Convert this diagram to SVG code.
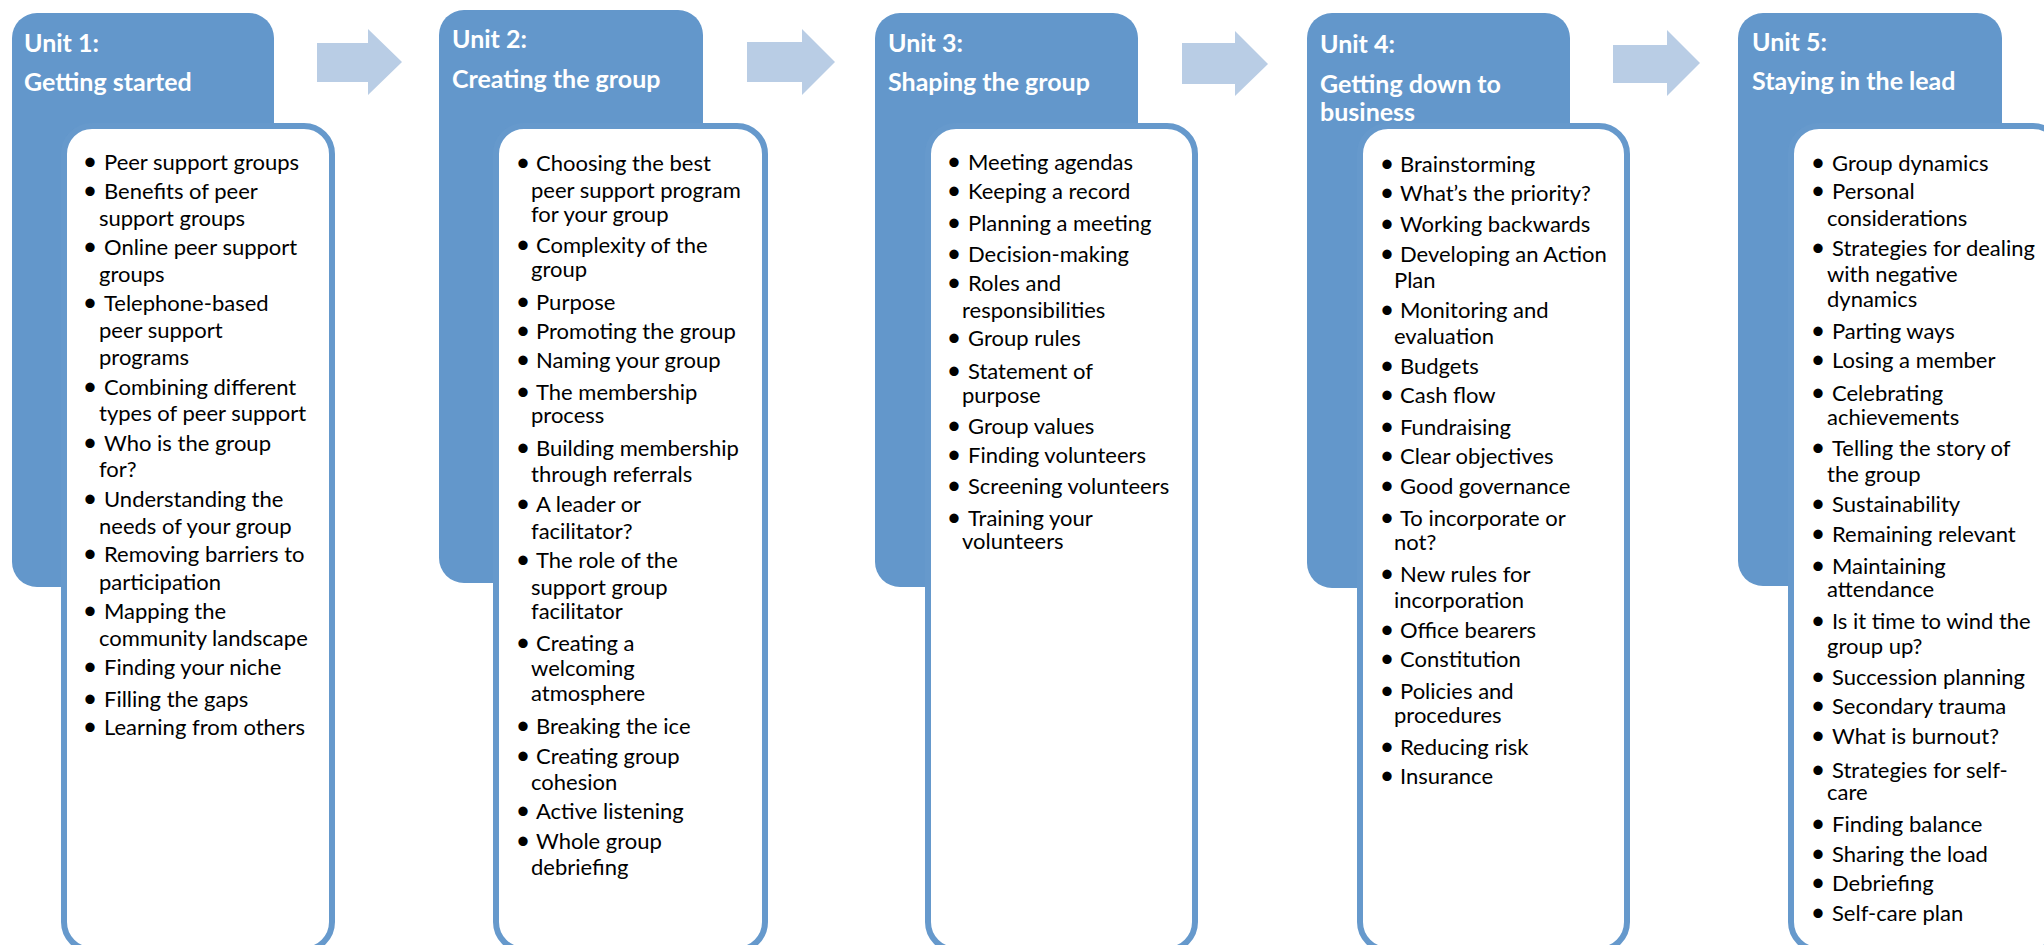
<svg xmlns="http://www.w3.org/2000/svg" width="2044" height="945" viewBox="0 0 2044 945">
<style>
.blue{fill:#6397CB}
.card{fill:#fff;stroke:#6699CC;stroke-width:6}
.arrow{fill:#B9CDE5}
.t{font-family:Lato,"Liberation Sans",sans-serif;font-weight:bold;font-size:25px;fill:#fff}
.b{font-family:Lato,"Liberation Sans",sans-serif;font-size:22px;fill:#000}
.d{font-family:Lato,"Liberation Sans",sans-serif;font-size:25px;fill:#000;text-anchor:middle}
</style>
<rect width="2044" height="945" fill="#fff"/>
<g id="connectors">
<polygon class="arrow" points="317,43 368,43 368,29 402,62 368,95 368,82 317,82"/>
<polygon class="arrow" points="747,42 802,42 802,29 835,62 802,95 802,82 747,82"/>
<polygon class="arrow" points="1182,43 1235,43 1235,31 1268,64 1235,96 1235,84 1182,84"/>
<polygon class="arrow" points="1613,45 1667,45 1667,30 1700,63 1667,96 1667,83 1613,83"/>
</g>
<g id="unit1">
<rect class="blue" x="12" y="13" width="262" height="574" rx="25"/>
<rect class="card" x="64" y="126" width="268" height="824" rx="28"/>
<text class="t" x="24" y="52">Unit 1:</text>
<text class="t" x="24" y="91">Getting started</text>
<g class="d"><text x="90" y="170">•</text><text x="90" y="199">•</text><text x="90" y="255">•</text><text x="90" y="311">•</text><text x="90" y="395">•</text><text x="90" y="451">•</text><text x="90" y="507">•</text><text x="90" y="562">•</text><text x="90" y="619">•</text><text x="90" y="675">•</text><text x="90" y="707">•</text><text x="90" y="735">•</text></g>
<text class="b" x="104" y="170">Peer support groups</text>
<text class="b"><tspan x="104" y="199">Benefits of peer</tspan><tspan x="99" y="226">support groups</tspan></text>
<text class="b"><tspan x="104" y="255">Online peer support</tspan><tspan x="99" y="282">groups</tspan></text>
<text class="b"><tspan x="104" y="311">Telephone-based</tspan><tspan x="99" y="338">peer support</tspan><tspan x="99" y="365">programs</tspan></text>
<text class="b"><tspan x="104" y="395">Combining different</tspan><tspan x="99" y="421">types of peer support</tspan></text>
<text class="b"><tspan x="104" y="451">Who is the group</tspan><tspan x="99" y="477">for?</tspan></text>
<text class="b"><tspan x="104" y="507">Understanding the</tspan><tspan x="99" y="534">needs of your group</tspan></text>
<text class="b"><tspan x="104" y="562">Removing barriers to</tspan><tspan x="99" y="590">participation</tspan></text>
<text class="b"><tspan x="104" y="619">Mapping the</tspan><tspan x="99" y="646">community landscape</tspan></text>
<text class="b" x="104" y="675">Finding your niche</text>
<text class="b" x="104" y="707">Filling the gaps</text>
<text class="b" x="104" y="735">Learning from others</text>
</g>
<g id="unit2">
<rect class="blue" x="439" y="10" width="264" height="573" rx="25"/>
<rect class="card" x="496" y="126" width="269" height="824" rx="28"/>
<text class="t" x="452" y="48">Unit 2:</text>
<text class="t" x="452" y="88">Creating the group</text>
<g class="d"><text x="523" y="171">•</text><text x="523" y="253">•</text><text x="523" y="310">•</text><text x="523" y="339">•</text><text x="523" y="368">•</text><text x="523" y="400">•</text><text x="523" y="456">•</text><text x="523" y="512">•</text><text x="523" y="568">•</text><text x="523" y="651">•</text><text x="523" y="734">•</text><text x="523" y="764">•</text><text x="523" y="819">•</text><text x="523" y="849">•</text></g>
<text class="b"><tspan x="536" y="171">Choosing the best</tspan><tspan x="531" y="198">peer support program</tspan><tspan x="531" y="222">for your group</tspan></text>
<text class="b"><tspan x="536" y="253">Complexity of the</tspan><tspan x="531" y="277">group</tspan></text>
<text class="b" x="536" y="310">Purpose</text>
<text class="b" x="536" y="339">Promoting the group</text>
<text class="b" x="536" y="368">Naming your group</text>
<text class="b"><tspan x="536" y="400">The membership</tspan><tspan x="531" y="423">process</tspan></text>
<text class="b"><tspan x="536" y="456">Building membership</tspan><tspan x="531" y="482">through referrals</tspan></text>
<text class="b"><tspan x="536" y="512">A leader or</tspan><tspan x="531" y="539">facilitator?</tspan></text>
<text class="b"><tspan x="536" y="568">The role of the</tspan><tspan x="531" y="595">support group</tspan><tspan x="531" y="619">facilitator</tspan></text>
<text class="b"><tspan x="536" y="651">Creating a</tspan><tspan x="531" y="676">welcoming</tspan><tspan x="531" y="701">atmosphere</tspan></text>
<text class="b" x="536" y="734">Breaking the ice</text>
<text class="b"><tspan x="536" y="764">Creating group</tspan><tspan x="531" y="790">cohesion</tspan></text>
<text class="b" x="536" y="819">Active listening</text>
<text class="b"><tspan x="536" y="849">Whole group</tspan><tspan x="531" y="875">debriefing</tspan></text>
</g>
<g id="unit3">
<rect class="blue" x="875" y="13" width="263" height="574" rx="25"/>
<rect class="card" x="928" y="126" width="267" height="824" rx="28"/>
<text class="t" x="888" y="52">Unit 3:</text>
<text class="t" x="888" y="91">Shaping the group</text>
<g class="d"><text x="954" y="170">•</text><text x="954" y="199">•</text><text x="954" y="231">•</text><text x="954" y="262">•</text><text x="954" y="291">•</text><text x="954" y="346">•</text><text x="954" y="379">•</text><text x="954" y="434">•</text><text x="954" y="463">•</text><text x="954" y="494">•</text><text x="954" y="526">•</text></g>
<text class="b" x="968" y="170">Meeting agendas</text>
<text class="b" x="968" y="199">Keeping a record</text>
<text class="b" x="968" y="231">Planning a meeting</text>
<text class="b" x="968" y="262">Decision-making</text>
<text class="b"><tspan x="968" y="291">Roles and</tspan><tspan x="962" y="318">responsibilities</tspan></text>
<text class="b" x="968" y="346">Group rules</text>
<text class="b"><tspan x="968" y="379">Statement of</tspan><tspan x="962" y="403">purpose</tspan></text>
<text class="b" x="968" y="434">Group values</text>
<text class="b" x="968" y="463">Finding volunteers</text>
<text class="b" x="968" y="494">Screening volunteers</text>
<text class="b"><tspan x="968" y="526">Training your</tspan><tspan x="962" y="549">volunteers</tspan></text>
</g>
<g id="unit4">
<rect class="blue" x="1307" y="13" width="263" height="575" rx="25"/>
<rect class="card" x="1360" y="126" width="267" height="824" rx="28"/>
<text class="t" x="1320" y="53">Unit 4:</text>
<text class="t"><tspan x="1320" y="93">Getting down to</tspan><tspan x="1320" y="121">business</tspan></text>
<g class="d"><text x="1387" y="172">•</text><text x="1387" y="201">•</text><text x="1387" y="232">•</text><text x="1387" y="262">•</text><text x="1387" y="318">•</text><text x="1387" y="374">•</text><text x="1387" y="403">•</text><text x="1387" y="435">•</text><text x="1387" y="464">•</text><text x="1387" y="494">•</text><text x="1387" y="526">•</text><text x="1387" y="582">•</text><text x="1387" y="638">•</text><text x="1387" y="667">•</text><text x="1387" y="699">•</text><text x="1387" y="755">•</text><text x="1387" y="784">•</text></g>
<text class="b" x="1400" y="172">Brainstorming</text>
<text class="b" x="1400" y="201">What’s the priority?</text>
<text class="b" x="1400" y="232">Working backwards</text>
<text class="b"><tspan x="1400" y="262">Developing an Action</tspan><tspan x="1394" y="288">Plan</tspan></text>
<text class="b"><tspan x="1400" y="318">Monitoring and</tspan><tspan x="1394" y="344">evaluation</tspan></text>
<text class="b" x="1400" y="374">Budgets</text>
<text class="b" x="1400" y="403">Cash flow</text>
<text class="b" x="1400" y="435">Fundraising</text>
<text class="b" x="1400" y="464">Clear objectives</text>
<text class="b" x="1400" y="494">Good governance</text>
<text class="b"><tspan x="1400" y="526">To incorporate or</tspan><tspan x="1394" y="550">not?</tspan></text>
<text class="b"><tspan x="1400" y="582">New rules for</tspan><tspan x="1394" y="608">incorporation</tspan></text>
<text class="b" x="1400" y="638">Office bearers</text>
<text class="b" x="1400" y="667">Constitution</text>
<text class="b"><tspan x="1400" y="699">Policies and</tspan><tspan x="1394" y="723">procedures</tspan></text>
<text class="b" x="1400" y="755">Reducing risk</text>
<text class="b" x="1400" y="784">Insurance</text>
</g>
<g id="unit5">
<rect class="blue" x="1738" y="13" width="264" height="573" rx="25"/>
<rect class="card" x="1791" y="126" width="270" height="824" rx="28"/>
<text class="t" x="1752" y="51">Unit 5:</text>
<text class="t" x="1752" y="90">Staying in the lead</text>
<g class="d"><text x="1818" y="171">•</text><text x="1818" y="199">•</text><text x="1818" y="256">•</text><text x="1818" y="339">•</text><text x="1818" y="368">•</text><text x="1818" y="401">•</text><text x="1818" y="456">•</text><text x="1818" y="512">•</text><text x="1818" y="542">•</text><text x="1818" y="574">•</text><text x="1818" y="629">•</text><text x="1818" y="685">•</text><text x="1818" y="714">•</text><text x="1818" y="744">•</text><text x="1818" y="778">•</text><text x="1818" y="832">•</text><text x="1818" y="862">•</text><text x="1818" y="891">•</text><text x="1818" y="921">•</text></g>
<text class="b" x="1832" y="171">Group dynamics</text>
<text class="b"><tspan x="1832" y="199">Personal</tspan><tspan x="1827" y="226">considerations</tspan></text>
<text class="b"><tspan x="1832" y="256">Strategies for dealing</tspan><tspan x="1827" y="282">with negative</tspan><tspan x="1827" y="307">dynamics</tspan></text>
<text class="b" x="1832" y="339">Parting ways</text>
<text class="b" x="1832" y="368">Losing a member</text>
<text class="b"><tspan x="1832" y="401">Celebrating</tspan><tspan x="1827" y="425">achievements</tspan></text>
<text class="b"><tspan x="1832" y="456">Telling the story of</tspan><tspan x="1827" y="482">the group</tspan></text>
<text class="b" x="1832" y="512">Sustainability</text>
<text class="b" x="1832" y="542">Remaining relevant</text>
<text class="b"><tspan x="1832" y="574">Maintaining</tspan><tspan x="1827" y="597">attendance</tspan></text>
<text class="b"><tspan x="1832" y="629">Is it time to wind the</tspan><tspan x="1827" y="654">group up?</tspan></text>
<text class="b" x="1832" y="685">Succession planning</text>
<text class="b" x="1832" y="714">Secondary trauma</text>
<text class="b" x="1832" y="744">What is burnout?</text>
<text class="b"><tspan x="1832" y="778">Strategies for self-</tspan><tspan x="1827" y="800">care</tspan></text>
<text class="b" x="1832" y="832">Finding balance</text>
<text class="b" x="1832" y="862">Sharing the load</text>
<text class="b" x="1832" y="891">Debriefing</text>
<text class="b" x="1832" y="921">Self-care plan</text>
</g>
</svg>
